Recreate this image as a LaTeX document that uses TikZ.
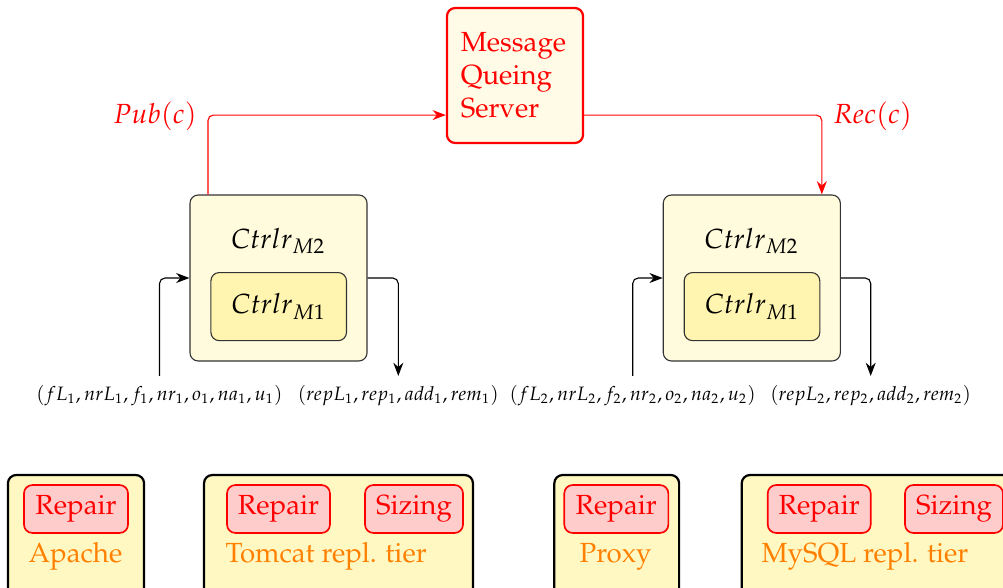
\documentclass[tikz,border=0pt]{standalone}
\usepackage[T1]{fontenc}
\usepackage{mathpazo}
\usepackage{amsmath}
\usetikzlibrary{positioning,arrows.meta}
\definecolor{mqfill}{HTML}{FFFBE6}
\definecolor{ctrlfill}{HTML}{FFFBDC}
\definecolor{innerfill}{HTML}{FFF5B0}
\definecolor{tierfill}{HTML}{FFF8C2}

\begin{document}
\begin{tikzpicture}[x=0.3614pt,y=-0.3614pt,>=Stealth,
  server/.style={draw=red,thick,rounded corners=3pt,fill=mqfill,text=red,align=left,text width=39.2pt,inner sep=5pt,minimum height=48.8pt},
  ctrlout/.style={draw=black!80,rounded corners=3pt,fill=ctrlfill,minimum width=64pt,minimum height=60pt},
  ctrlin/.style={draw=black!80,rounded corners=3pt,fill=innerfill,minimum width=49pt,minimum height=24.6pt},
  tier/.style={draw,thick,rounded corners=3pt,fill=tierfill,minimum height=52.4pt},
  policy/.style={draw=red,semithick,rounded corners=3pt,fill=red!20,text=red,minimum height=17.3pt,inner sep=1pt},
  tiername/.style={text=orange,inner sep=0pt,anchor=base},
  tuple/.style={font=\scriptsize},
  flow/.style={->,rounded corners=2pt},
  msg/.style={flow,red}]
  \useasboundingbox (0,0) rectangle (1003,587);
  \clip (0,0) rectangle (1003,587);
  % message queue
  \node[server] (mq) at (515,75.5) {Message\\Queing\\Server};
  % left controller
  \node[ctrlout] (ctrlL) at (278.5,278) {};
  \node (ctrlLtop) at (278.3,241) {$Ctrlr_{M2}$};
  \node[ctrlin] (ctrlLin) at (278.7,306.6) {$Ctrlr_{M1}$};
  \node[tuple] (obsL) at (159.5,396) {$(fL_1,nrL_1,f_1,nr_1,o_1,na_1,u_1)$};
  \node[tuple] (actL) at (398.3,396) {$(repL_1,rep_1,add_1,rem_1)$};
  \draw[flow] (obsL.north) |- (ctrlL.west);
  \draw[flow] (ctrlL.east) -| (actL.north);
  % right controller
  \node[ctrlout] (ctrlR) at (751.8,278) {};
  \node (ctrlRtop) at (751.6,241) {$Ctrlr_{M2}$};
  \node[ctrlin] (ctrlRin) at (752,306.6) {$Ctrlr_{M1}$};
  \node[tuple] (obsR) at (632.7,396) {$(fL_2,nrL_2,f_2,nr_2,o_2,na_2,u_2)$};
  \node[tuple] (actR) at (870.7,396) {$(repL_2,rep_2,add_2,rem_2)$};
  \draw[flow] (obsR.north) |- (ctrlR.west);
  \draw[flow] (ctrlR.east) -| (actR.north);
  % publish / receive
  \draw[msg] ([xshift=6.7pt]ctrlL.north west) |- ([yshift=-14.3pt]mq.west);
  \draw[msg] ([yshift=-14.3pt]mq.east) -| ([xshift=-6.9pt]ctrlR.north east);
  \node[text=red] (pub) at (155,116) {$Pub(c)$};
  \node[text=red] (rec) at (872.5,116) {$Rec(c)$};
  % tiers
  \node[tier,minimum width=49.2pt] (apache) at (76,547.5) {};
  \node[policy,minimum width=37.6pt] (apacheRep) at (76,509) {Repair};
  \node[tiername] (apacheName) at (75.5,562) {Apache};
  \node[tier,minimum width=97.2pt] (tomcat) at (338.5,547.5) {};
  \node[policy,minimum width=37.2pt] (tomcatRep) at (278.5,509) {Repair};
  \node[policy,minimum width=35.4pt] (tomcatSiz) at (414,509) {Sizing};
  \node[tiername,anchor=base west] (tomcatName) at (225,562) {Tomcat repl. tier};
  \node[tier,minimum width=45.1pt] (proxy) at (616.7,547.5) {};
  \node[policy,minimum width=37.6pt] (proxyRep) at (616.3,509) {Repair};
  \node[tiername] (proxyName) at (615.5,562) {Proxy};
  \node[tier,minimum width=97.2pt] (mysql) at (876.2,547.5) {};
  \node[policy,minimum width=37.2pt] (mysqlRep) at (819.2,509) {Repair};
  \node[policy,minimum width=35.4pt] (mysqlSiz) at (954,509) {Sizing};
  \node[tiername,anchor=base west] (mysqlName) at (761,562) {MySQL repl. tier};
\end{tikzpicture}
\end{document}
